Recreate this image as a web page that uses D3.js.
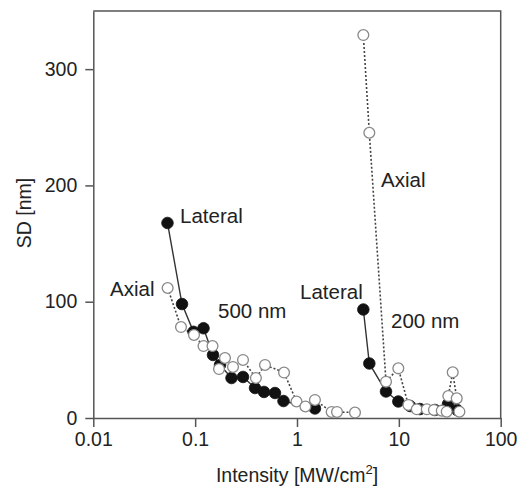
<!DOCTYPE html>
<html>
<head>
<meta charset="utf-8">
<script src="https://cdn.jsdelivr.net/npm/d3@7"></script>
<style>
  body { margin: 0; background: #fff; }
  text { font-family: "Liberation Sans", Arial, sans-serif; fill: #222; }
</style>
</head>
<body>
<div id="chart"></div>
<script>
// 500 nm data
const lat500x = [0.0535, 0.0743, 0.0963, 0.1208, 0.1497, 0.1754, 0.2275, 0.295, 0.387, 0.474, 0.608, 0.737, 1.50];
const lat500y = [167.7, 98.0, 74.1, 77.2, 54.2, 45.6, 34.4, 35.3, 25.8, 22.4, 21.5, 14.6, 8.2];
const ax500x = [0.0537, 0.0726, 0.0974, 0.1208, 0.148, 0.1715, 0.1963, 0.2353, 0.295, 0.395, 0.485, 0.746, 0.989, 1.21, 1.50, 2.19, 2.47, 3.71];
const ax500y = [111.8, 78.2, 71.4, 61.9, 61.9, 42.1, 51.6, 43.9, 49.9, 34.4, 45.6, 39.1, 14.2, 9.9, 15.5, 5.2, 5.2, 4.7];

// 200 nm data
const lat200x = [4.48, 5.13, 7.48, 9.88, 12.9, 16.1, 22.6, 30.4, 37.3];
const lat200y = [93.3, 46.9, 22.8, 14.2, 10.3, 7.7, 6.9, 12.0, 6.9];
const ax200x = [4.48, 5.13, 7.48, 9.88, 12.4, 15.0, 18.8, 22.1, 26.4, 29.5, 30.6, 33.8, 37.0, 39.3];
const ax200y = [329.3, 245.3, 31.2, 42.7, 11.2, 7.5, 7.5, 6.9, 6.3, 5.4, 18.9, 39.3, 16.9, 5.4];

const xTicks = [0.01, 0.1, 1, 10, 100];
const xTickLabels = ["0.01", "0.1", "1", "10", "100"];
const yTicks = [0, 100, 200, 300];

const width = 521, height = 486;
const svg = d3.select("#chart").append("svg")
    .attr("width", width)
    .attr("height", height);

const x = d3.scaleLog().domain([0.01, 100]).range([93.3, 500.7]);
const y = d3.scaleLinear().domain([0, 350]).range([418, 11]);

const zip = (xs, ys) => xs.map((v, i) => ({x: v, y: ys[i]}));

// frame (top and right)
svg.append("path")
    .attr("d", `M${x(0.01)},${y(350)}H${x(100)}V${y(0)}`)
    .attr("fill", "none")
    .attr("stroke", "#555")
    .attr("stroke-width", 1.5);

// x axis
const xAxis = svg.append("g")
    .attr("transform", `translate(0,${y(0)})`)
    .call(d3.axisBottom(x).tickValues(xTicks).tickFormat((d, i) => xTickLabels[i]).tickSize(9).tickPadding(5).tickSizeOuter(0));
xAxis.select(".domain").attr("stroke", "#555").attr("stroke-width", 1.5);
xAxis.selectAll(".tick line").attr("stroke", "#555").attr("stroke-width", 1.5);
xAxis.selectAll("text").style("font-size", "19.5px").attr("fill", "#222");

// y axis
const yAxis = svg.append("g")
    .attr("transform", `translate(${x(0.01)},0)`)
    .call(d3.axisLeft(y).tickValues(yTicks).tickSize(8).tickPadding(8).tickSizeOuter(0));
yAxis.select(".domain").attr("stroke", "#555").attr("stroke-width", 1.5);
yAxis.selectAll(".tick line").attr("stroke", "#555").attr("stroke-width", 1.5);
yAxis.selectAll("text").style("font-size", "19.5px").attr("fill", "#222");

// axis titles
const xt = svg.append("text")
    .attr("x", x(1))
    .attr("y", 482)
    .attr("text-anchor", "middle")
    .style("font-size", "19.5px");
xt.append("tspan").text("Intensity [MW/cm");
xt.append("tspan").text("2").style("font-size", "13px").attr("dy", -8);
xt.append("tspan").text("]").attr("dy", 8);

svg.append("text")
    .attr("transform", "translate(31,213) rotate(-90)")
    .attr("text-anchor", "middle")
    .style("font-size", "19.5px")
    .text("SD [nm]");

const line = d3.line().x(d => x(d.x)).y(d => y(d.y));

// axial lines (dotted)
[zip(ax500x, ax500y), zip(ax200x, ax200y)].forEach(data => {
    svg.append("path")
        .datum(data)
        .attr("d", line)
        .attr("fill", "none")
        .attr("stroke", "#444")
        .attr("stroke-width", 1.6)
        .attr("stroke-dasharray", "2,2");
});

// lateral lines (solid)
[zip(lat500x, lat500y), zip(lat200x, lat200y)].forEach(data => {
    svg.append("path")
        .datum(data)
        .attr("d", line)
        .attr("fill", "none")
        .attr("stroke", "#333")
        .attr("stroke-width", 1.4);
});

// lateral points (filled)
svg.append("g")
    .selectAll("circle")
    .data(zip(lat500x, lat500y).concat(zip(lat200x, lat200y)))
    .join("circle")
        .attr("cx", d => x(d.x))
        .attr("cy", d => y(d.y))
        .attr("r", 5.8)
        .attr("fill", "#111")
        .attr("stroke", "#111")
        .attr("stroke-width", 0.8);

// axial points (open)
svg.append("g")
    .selectAll("circle")
    .data(zip(ax500x, ax500y).concat(zip(ax200x, ax200y)))
    .join("circle")
        .attr("cx", d => x(d.x))
        .attr("cy", d => y(d.y))
        .attr("r", 5.4)
        .attr("fill", "#fff")
        .attr("stroke", "#888")
        .attr("stroke-width", 1.3);

// annotations
const labels = [
    {t: "Lateral", x: 180, y: 223},
    {t: "Axial", x: 110, y: 296},
    {t: "500 nm", x: 218, y: 318},
    {t: "Lateral", x: 300, y: 299},
    {t: "Axial", x: 381, y: 187},
    {t: "200 nm", x: 391, y: 328}
];
svg.selectAll(".lbl")
    .data(labels)
    .join("text")
        .attr("class", "lbl")
        .attr("x", d => d.x)
        .attr("y", d => d.y)
        .style("font-size", "20.5px")
        .text(d => d.t);
</script>
</body>
</html>
